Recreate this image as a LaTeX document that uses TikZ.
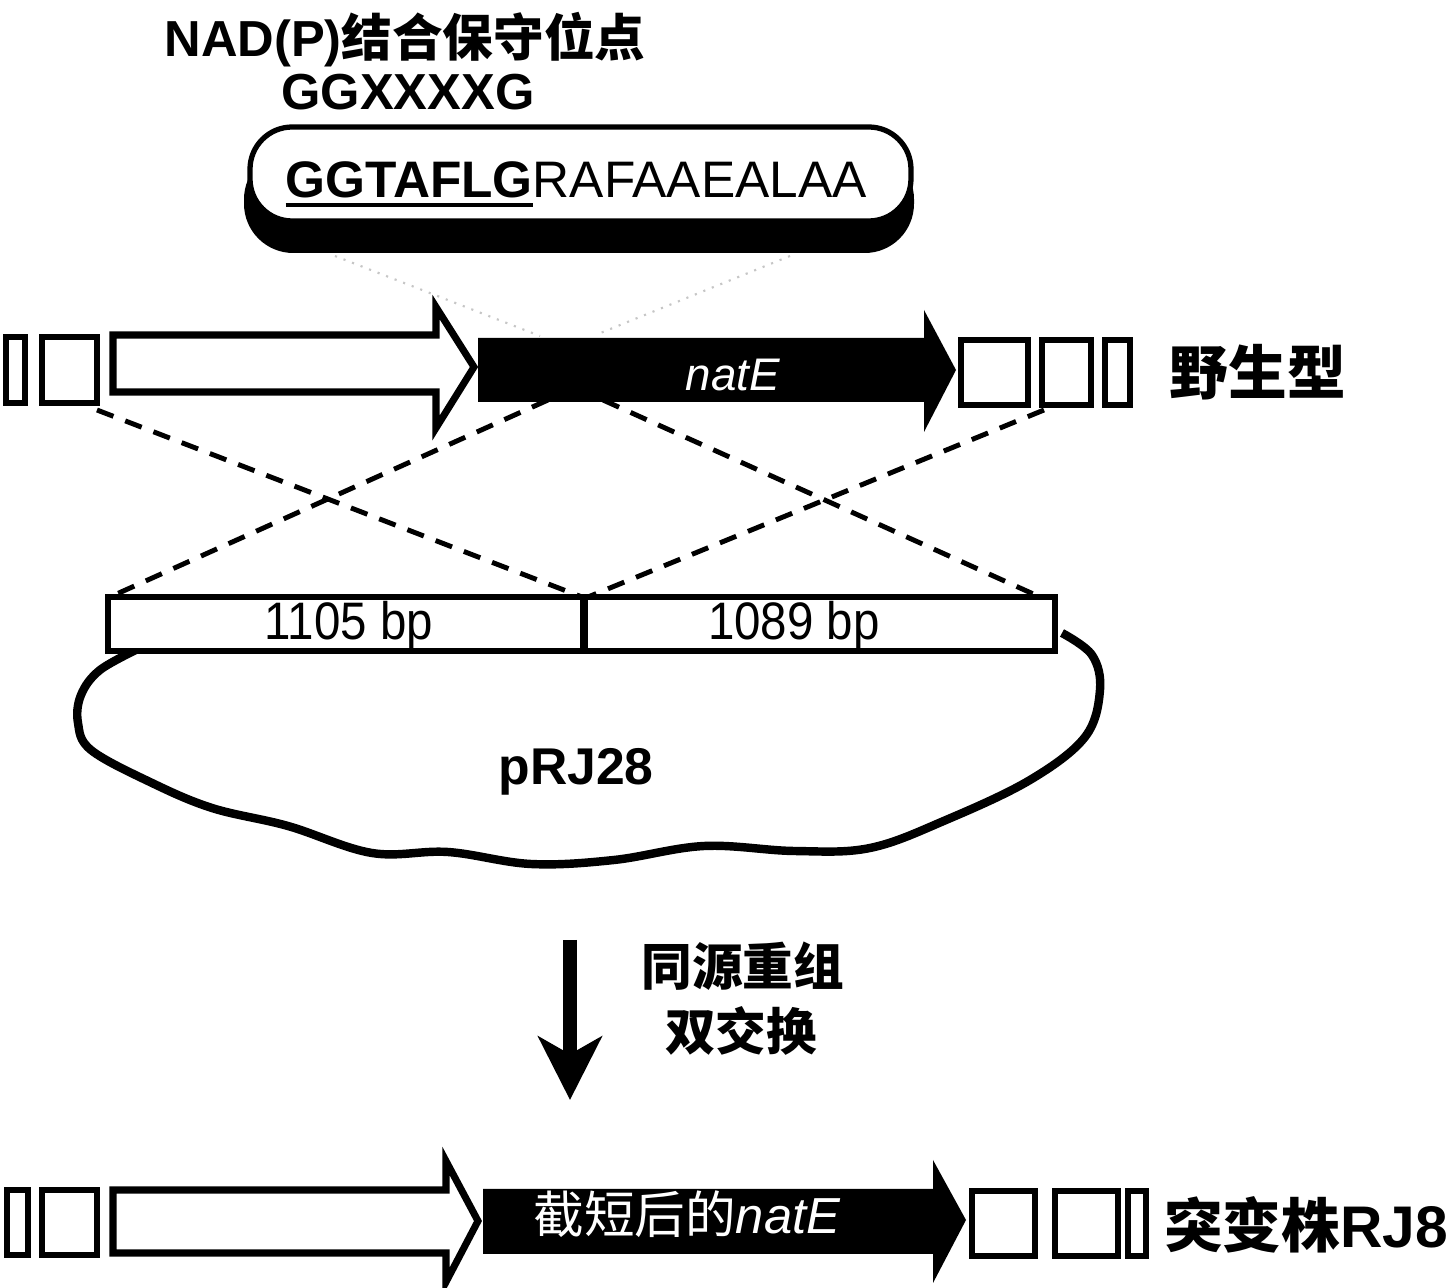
\documentclass[tikz,border=0pt]{standalone}
\usepackage{fontspec}
\setmainfont{Liberation Sans}
\newfontfamily\cjk{Noto Sans CJK SC}
\usetikzlibrary{arrows.meta}
\def\ulbox#1{\vtop{\hbox{#1}\kern1.2pt\hrule height 1.3pt}}
\begin{document}
\begin{tikzpicture}[x=0.01cm,y=-0.01cm,
  lbl/.style={inner sep=0pt,font=\fontsize{14.4}{17}\selectfont\bfseries},
  biglbl/.style={inner sep=0pt,font=\fontsize{16.7}{19}\selectfont\bfseries},
  genebox/.style={draw,line width=1.6pt,fill=white},
  openarrow/.style={draw,line width=2pt,fill=white},
  blackarrow/.style={fill=black},
  homline/.style={dashed,line width=1.4pt,dash pattern=on 5pt off 3.6pt},
  funnel/.style={gray!45,dotted,line width=0.6pt},
  bplbl/.style={inner sep=0pt,font=\fontsize{15}{18}\selectfont}]
\useasboundingbox (0,0) rectangle (1456,1288);
\fill[white] (0,0) rectangle (1456,1288);

% title
\node[lbl] (title) at (405,40) {NAD(P){\cjk 结合保守位点}};
\node[lbl] (motif) at (408,92) {GGXXXXG};

% callout box with shadow
\fill[black,rounded corners=14pt] (244,150) rectangle (914,253);
\draw[line width=1.5pt,fill=white,rounded corners=12pt] (250,127) rectangle (911,221);
\node[inner sep=0pt,anchor=base west,font=\fontsize{14.6}{17}\selectfont] (seq) at (285,198)
  {\ulbox{\bfseries GGTAFLG}RAFAAEALAA};

% funnel from callout to gene
\coordinate (fl) at (335,256);
\coordinate (fr) at (790,256);
\coordinate (gl) at (540,336);
\coordinate (gr) at (598,334);
\draw[funnel] (fl) -- (gl);
\draw[funnel] (fr) -- (gr);

% wild type row
\draw[genebox] (6,337) rectangle (25,403);
\draw[genebox] (42,337) rectangle (97,403);
\coordinate (w2br) at (97,410);
\draw[openarrow] (113,335) -- (436,335) -- (436,307) -- (474,367) -- (436,428) -- (436,392) -- (113,392) -- cycle;
\fill[blackarrow] (478,338) -- (924,338) -- (924,310) -- (956,370) -- (924,432) -- (924,402) -- (478,402) -- cycle;
\node[inner sep=0pt,text=white,font=\fontsize{13}{15}\selectfont\itshape] (natE) at (733,375) {natE};
\draw[genebox] (961,340) rectangle (1028,405);
\draw[genebox] (1042,340) rectangle (1091,405);
\draw[genebox] (1105,340) rectangle (1130,405);
\node[biglbl] (wt) at (1258,372) {\cjk 野生型};

% homology dashed lines
\coordinate (nb1) at (548,400);
\coordinate (nb2) at (603,400);
\coordinate (rb) at (1044,410);
\coordinate (barL) at (110,597);
\coordinate (barM) at (582,597);
\coordinate (barM2) at (588,597);
\coordinate (barR) at (1040,597);
\draw[homline] (w2br) -- (barM);
\draw[homline] (nb1) -- (barL);
\draw[homline] (nb2) -- (barR);
\draw[homline] (rb) -- (barM2);

% plasmid
\draw[line width=2.4pt,line join=round] plot[smooth,tension=0.6] coordinates {
 (140,648) (100,670) (81,695) (78,723) (91,750) (150,782) (212,808) (288,826)
 (372,853) (448,852) (531,864) (614,860) (704,846) (794,851) (870,848)
 (946,820) (1030,780) (1085,737) (1100,690) (1092,655) (1062,633)};
\draw[line width=1.5pt,fill=white] (108,597) rectangle (1055,651);
\draw[line width=2.4pt] (584,597) -- (584,651);
\node[bplbl] (bpL) at (349,626) {\scalebox{0.9}[1]{1105 bp}};
\node[bplbl] (bpR) at (794,626) {\scalebox{0.9}[1]{1089 bp}};
\node[inner sep=0pt,font=\fontsize{14.7}{17}\selectfont\bfseries] (prj) at (576,772) {pRJ28};

% recombination arrow
\coordinate (arS) at (570,940);
\coordinate (arE) at (570,1100);
\draw[line width=3.7pt,-{Stealth[length=18pt,width=18pt,inset=5pt]}] (arS) -- (arE);
\node[lbl] (rec1) at (743,966) {\cjk 同源重组};
\node[lbl] (rec2) at (741,1031) {\cjk 双交换};

% mutant row
\draw[genebox] (7,1190) rectangle (28,1255);
\draw[genebox] (42,1190) rectangle (97,1255);
\draw[openarrow] (113,1190) -- (446,1190) -- (446,1161) -- (478,1221) -- (446,1282) -- (446,1253) -- (113,1253) -- cycle;
\fill[blackarrow] (483,1189) -- (933,1189) -- (933,1160) -- (966,1220) -- (933,1283) -- (933,1254) -- (483,1254) -- cycle;
\node[inner sep=0pt,text=white,font=\fontsize{14.4}{17}\selectfont] (natE2) at (687,1214) {{\cjk 截短后的}\textit{natE}};
\draw[genebox] (972,1191) rectangle (1035,1256);
\draw[genebox] (1055,1191) rectangle (1118,1256);
\draw[genebox] (1128,1191) rectangle (1146,1256);
\node[biglbl] (mut) at (1306,1225) {{\cjk 突变株}RJ8};
\end{tikzpicture}
\end{document}
